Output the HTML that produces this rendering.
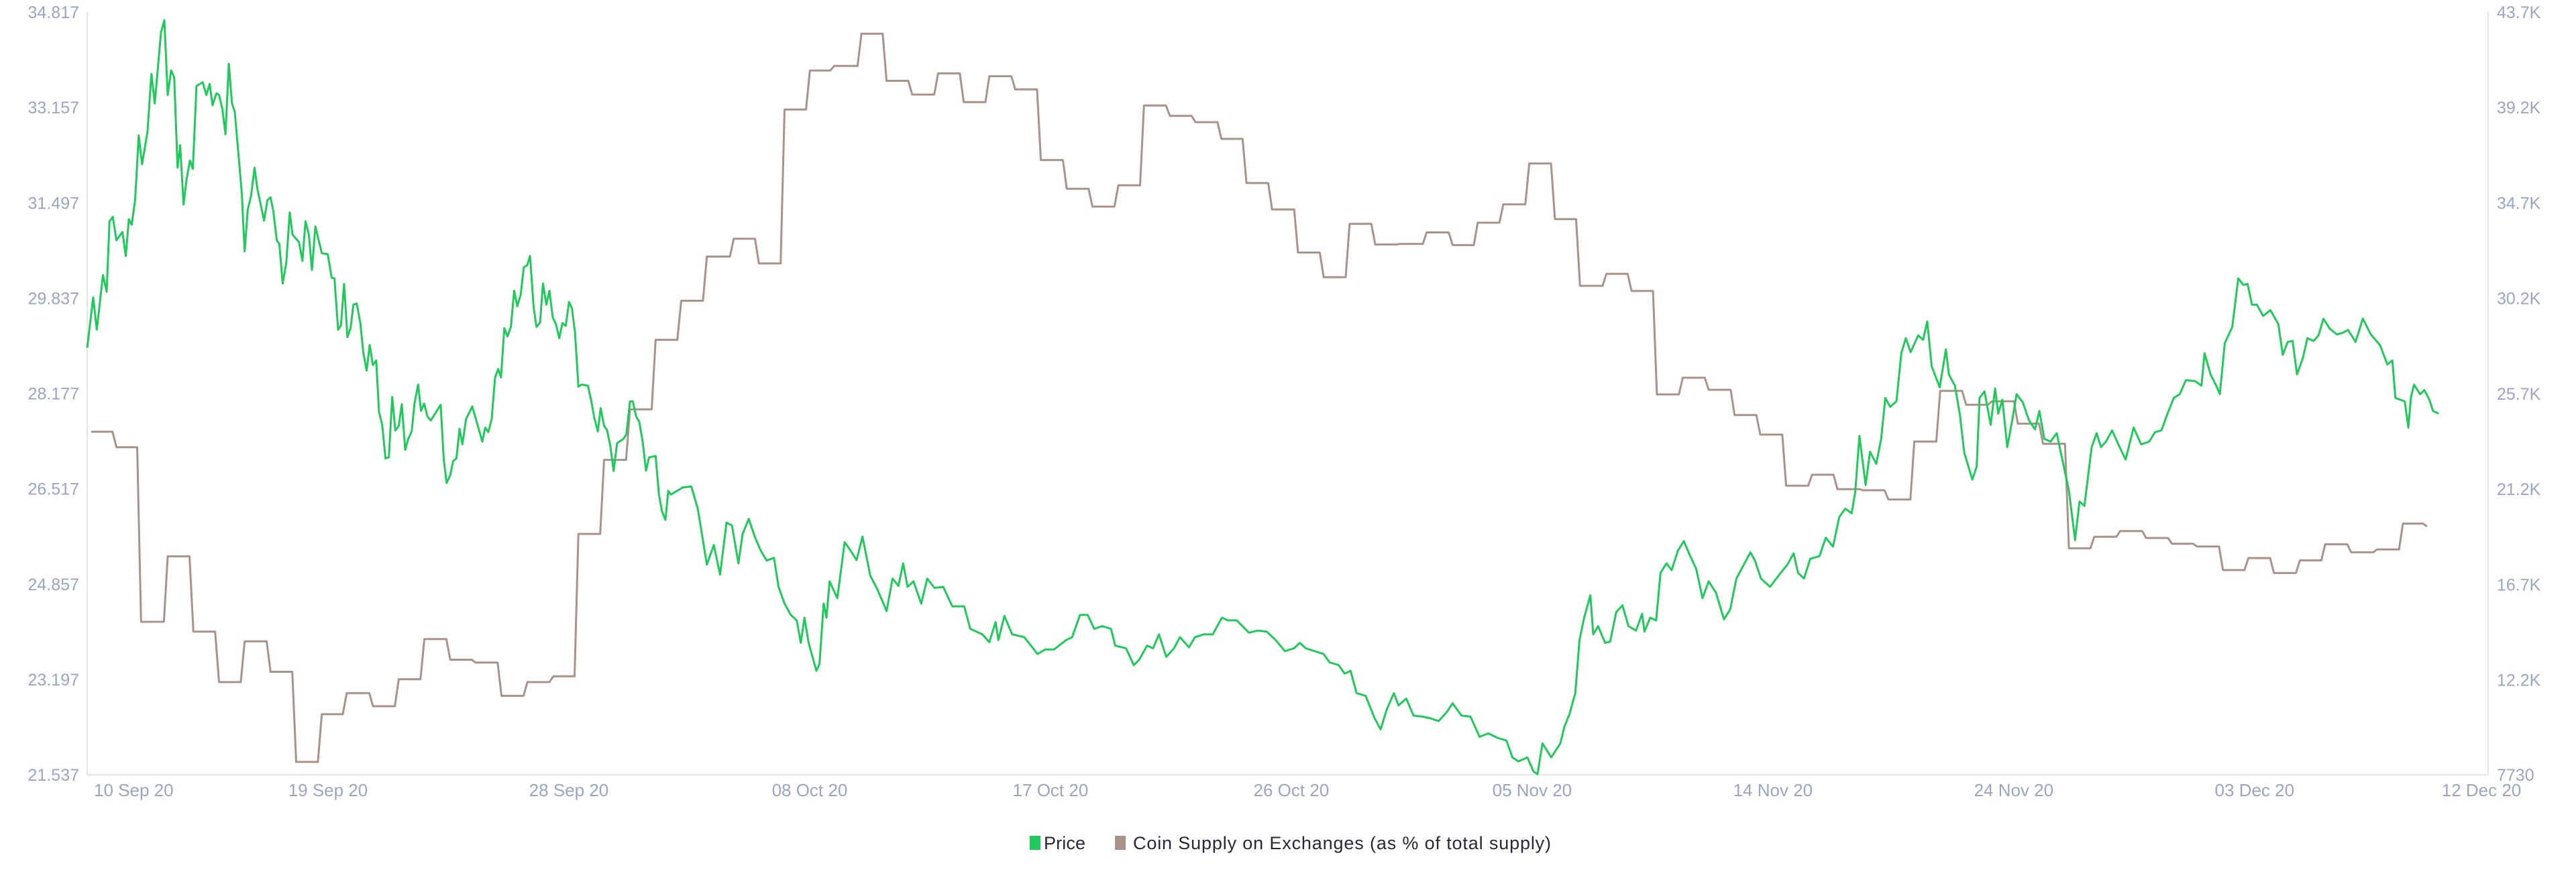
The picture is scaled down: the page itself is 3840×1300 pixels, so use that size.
<!DOCTYPE html>
<html><head><meta charset="utf-8"><style>
html,body{margin:0;padding:0;background:#fff;}
svg{display:block;font-family:"Liberation Sans",sans-serif;}
</style></head><body>
<svg id="chart" width="3840" height="1300" viewBox="0 0 3840 1300" xmlns="http://www.w3.org/2000/svg">
<rect x="0" y="0" width="3840" height="1300" fill="#fff"/>
<line x1="130" y1="18" x2="130" y2="1155" stroke="#e3e5ee" stroke-width="2"/>
<line x1="3709" y1="18" x2="3709" y2="1155" stroke="#e3e5ee" stroke-width="2"/>
<line x1="130" y1="1155" x2="3709" y2="1155" stroke="#e3e5ee" stroke-width="2"/>
<g id="lticks"></g>
<g id="rticks"></g>
<g id="xticks"></g>
<path id="supplyLine" fill="none" stroke="#a8928a" stroke-width="3" stroke-linejoin="round"/>
<path id="priceLine" fill="none" stroke="#1fc95a" stroke-width="3" stroke-linejoin="round"/>
<g>
<rect x="1535" y="1246" width="16" height="21" fill="#1fc95a"/>
<text x="1556" y="1266" font-size="27" fill="#262838" textLength="62">Price</text>
<rect x="1662" y="1246" width="16" height="21" fill="#a8928a"/>
<text x="1689" y="1266" font-size="27" fill="#262838" textLength="623">Coin Supply on Exchanges (as % of total supply)</text>
</g>
</svg>
<script>
const leftTicks = [21.537, 23.197, 24.857, 26.517, 28.177, 29.837, 31.497, 33.157, 34.817];
const leftTickLabels = ["21.537","23.197","24.857","26.517","28.177","29.837","31.497","33.157","34.817"];
const rightTicks = [7.73, 12.2, 16.7, 21.2, 25.7, 30.2, 34.7, 39.2, 43.7];
const rightTickLabels = ["7730","12.2K","16.7K","21.2K","25.7K","30.2K","34.7K","39.2K","43.7K"];
const xTickDays = [0, 9.3, 18.6, 27.9, 37.2, 46.5, 55.8, 65.1, 74.4, 83.7, 93];
const xTickLabels = ["10 Sep 20","19 Sep 20","28 Sep 20","08 Oct 20","17 Oct 20","26 Oct 20","05 Nov 20","14 Nov 20","24 Nov 20","03 Dec 20","12 Dec 20"];

const priceDay = [0,0.23,0.37,0.61,0.75,0.86,0.99,1.13,1.36,1.49,1.61,1.72,1.85,1.99,2.12,2.33,2.48,2.61,2.85,2.98,3.11,3.24,3.36,3.49,3.59,3.72,3.84,3.97,4.08,4.22,4.46,4.6,4.73,4.84,4.99,5.09,5.22,5.34,5.47,5.59,5.7,5.97,6.08,6.2,6.33,6.46,6.58,6.83,6.96,7.08,7.19,7.32,7.42,7.55,7.69,7.82,7.93,8.18,8.31,8.43,8.56,8.68,8.81,8.94,9.06,9.29,9.44,9.55,9.69,9.8,9.92,10.05,10.17,10.28,10.41,10.55,10.66,10.79,10.91,11.03,11.16,11.27,11.39,11.52,11.65,11.78,11.9,12.03,12.15,12.28,12.4,12.53,12.64,12.78,12.89,13.01,13.14,13.27,13.65,13.77,13.88,14.02,14.13,14.26,14.38,14.49,14.63,14.87,15.26,15.37,15.49,15.62,15.75,15.87,15.98,16.11,16.23,16.36,16.49,16.61,16.74,16.86,16.99,17.1,17.24,17.35,17.49,17.6,17.73,17.85,17.98,18.1,18.23,18.35,18.48,18.61,18.72,18.84,18.97,19.09,19.34,19.47,19.58,19.72,19.83,19.96,20.08,20.21,20.33,20.46,20.71,20.82,20.96,21.07,21.2,21.32,21.45,21.58,21.7,21.95,22.08,22.2,22.33,22.44,22.54,23,23.33,23.58,23.93,24.2,24.44,24.69,24.9,25.15,25.31,25.55,25.78,26.01,26.24,26.52,26.7,26.93,27.17,27.4,27.56,27.7,27.86,28.16,28.28,28.44,28.55,28.67,28.97,29.25,29.48,29.71,29.94,30.24,30.52,30.87,31.1,31.33,31.51,31.68,31.91,32.21,32.44,32.72,33.06,33.41,33.87,34.1,34.57,34.84,35.08,35.19,35.42,35.72,36.19,36.53,36.7,37,37.34,37.8,38.04,38.34,38.64,38.89,39.19,39.54,39.7,40.12,40.42,40.63,40.93,41.16,41.39,41.67,41.97,42.2,42.55,42.78,43.13,43.47,43.82,44.05,44.4,44.86,45.21,45.55,45.9,46.25,46.6,46.83,47.06,47.4,47.75,47.98,48.33,48.56,48.79,49.02,49.37,49.72,49.95,50.18,50.46,50.64,50.94,51.22,51.57,51.87,52.19,52.49,52.73,53.07,53.42,53.77,54.11,54.46,54.81,55.04,55.27,55.62,55.85,56.01,56.2,56.54,56.89,57.05,57.24,57.47,57.63,57.81,58.05,58.16,58.35,58.62,58.81,59.05,59.29,59.52,59.81,60.05,60.14,60.36,60.59,60.76,60.99,61.19,61.43,61.66,61.86,62.14,62.38,62.62,62.9,63.21,63.45,63.69,63.92,64.23,64.4,64.64,64.99,65.35,65.66,65.9,66.07,66.3,66.54,66.9,67.14,67.42,67.66,67.9,68.14,68.28,68.44,68.68,68.85,69.09,69.28,69.44,69.63,69.87,70.06,70.23,70.42,70.71,70.9,71.06,71.23,71.54,71.78,71.9,72.13,72.32,72.49,72.8,72.97,73.08,73.27,73.51,73.68,73.8,73.96,74.15,74.35,74.51,74.75,74.99,75.22,75.39,75.58,75.82,76.06,76.29,76.53,76.77,76.94,77.13,77.41,77.6,77.77,77.96,78.2,78.44,78.72,79.03,79.32,79.63,79.86,80.1,80.34,80.58,80.81,81.05,81.41,81.65,81.77,82,82.24,82.36,82.55,82.84,83.07,83.27,83.43,83.6,83.79,84.03,84.31,84.62,84.79,84.98,85.17,85.34,85.57,85.74,85.98,86.17,86.36,86.6,86.88,87.12,87.31,87.6,87.88,88.19,88.55,88.83,89.02,89.14,89.5,89.64,89.74,89.86,90.09,90.26,90.45,90.59,90.81];
const priceK = [27.87,30.24,28.72,31.3,30.51,33.83,34.04,32.93,33.33,32.2,33.93,33.67,34.83,37.89,36.52,38.07,40.79,39.39,42.74,43.32,39.79,40.95,40.63,36.36,37.42,34.62,35.83,36.7,36.31,40.21,40.39,39.79,40.31,39.31,39.87,39.79,39.13,37.94,41.26,39.39,39,35.17,32.41,34.38,35.04,36.36,35.31,33.86,34.83,34.96,34.3,32.93,32.77,30.9,31.88,34.25,33.2,32.85,31.96,33.83,33.2,31.54,33.59,32.93,32.33,32.28,31.17,31.14,28.72,28.93,30.88,28.37,28.79,29.9,29.95,29.03,27.66,26.79,28,27.05,27.27,24.84,24.23,22.65,22.7,25.55,23.97,24.18,25.21,23.05,23.57,23.92,25.24,26.13,24.89,25.24,24.63,24.44,25.18,22.6,21.49,21.86,22.52,22.65,24.05,23.31,24.5,25.1,23.44,24.1,23.89,24.5,26.47,26.87,26.47,28.79,28.4,28.85,30.56,29.82,30.38,31.67,31.75,32.2,29.77,28.85,29.06,30.9,29.9,30.56,29.3,28.98,28.32,29.03,28.9,30.03,29.72,28.58,26.03,26.13,26.08,25.34,24.58,23.92,25.02,24.18,23.97,23.18,22.05,23.36,23.57,23.79,25.34,25.34,24.63,24.37,23.44,22.07,22.7,22.76,20.94,20.15,19.75,21.12,20.94,21.28,21.33,20.28,17.64,18.57,17.17,19.62,19.49,17.7,19.09,19.8,18.96,18.3,17.83,17.96,16.59,15.8,15.27,15.01,13.95,15.14,13.95,12.63,12.95,15.8,15.14,16.85,16.06,18.7,18.3,17.85,18.96,17.12,16.46,15.45,16.98,16.64,17.7,16.59,16.85,15.8,16.98,16.54,16.59,15.67,15.67,14.61,14.35,13.98,14.93,14.08,15.22,14.35,14.22,13.69,13.42,13.64,13.64,14.08,14.22,15.27,15.27,14.61,14.74,14.61,13.82,13.69,12.9,13.16,13.82,13.69,14.35,13.29,13.69,14.22,13.74,14.22,14.35,14.35,15.14,15.01,15.01,14.43,14.53,14.48,14.08,13.56,13.69,13.95,13.69,13.56,13.42,13.03,12.9,12.5,12.63,11.58,11.45,10.39,9.87,10.79,11.58,11,11.32,10.52,10.47,10.39,10.26,10.66,11.1,10.52,10.47,9.52,9.68,9.47,9.34,8.55,8.36,8.55,7.89,7.76,9.21,8.55,9.21,10,10.58,11.58,14.08,15.14,16.19,14.35,14.74,13.95,14,15.4,15.72,14.74,14.53,15.32,14.48,15.14,15.01,17.25,17.7,17.38,18.3,18.75,18.17,17.43,16.06,16.85,16.32,15.06,15.53,16.98,17.51,18.22,17.85,16.98,16.59,17.17,17.64,18.17,17.25,16.98,17.91,18.04,18.91,18.49,19.88,20.28,20.06,21.07,23.71,21.39,22.97,22.39,23.57,25.5,25.08,25.34,27.61,28.32,27.66,28.45,28.24,29.11,27,26,27.79,26.6,26.08,24.71,22.92,21.65,22.26,25.5,25.81,24.23,25.95,24.76,25.42,23.18,24.5,25.68,25.29,24.44,24.02,24.89,23.57,23.44,23.84,22.52,21.12,18.8,20.62,20.41,23.18,23.84,23.18,23.44,23.97,23.31,22.6,24.1,23.31,23.44,23.89,23.97,24.76,25.5,25.68,26.34,26.29,26.08,27.61,26.61,26.03,25.68,28.08,28.85,31.14,30.83,30.88,29.9,29.9,29.37,29.64,28.98,27.53,28.14,28.19,26.61,27.4,28.32,28.19,28.45,29.24,28.77,28.5,28.58,28.71,28.14,29.24,28.5,27.98,27.08,27.27,25.5,25.34,24.1,25.55,26.13,25.68,25.87,25.42,24.89,24.76];

const supplyDay = [0.15,1.13,2.08,3.11,4.1,5.09,6.08,7.08,8.07,9.06,10.02,11.04,12.03,13.02,14.02,15,16,17,18,18.97,19.96,20.96,21.95,22.94,23.93,24.97,25.94,26.93,27.91,28.85,29.9,30.87,31.86,32.86,33.85,34.84,35.84,36.83,37.83,38.82,39.82,40.81,41.81,42.8,43.8,44.77,45.76,46.76,47.75,48.75,49.74,50.71,51.73,52.73,53.7,54.69,55.69,56.68,57.65,58.67,59.64,60.62,61.62,62.62,63.62,64.61,65.61,66.61,67.59,68.59,69.56,70.56,71.56,72.56,73.56,74.56,75.53,76.53,77.51,78.51,79.51,80.51,81.48,82.48,83.46,84.45,85.45,86.43,87.43,88.43,89.43,90.36];
const supplyPct = [27.51,27.24,24.2,25.34,24.03,23.15,23.86,23.33,21.76,22.59,22.96,22.73,23.2,23.9,23.54,23.49,22.91,23.15,23.25,25.73,27.02,27.9,29.11,29.79,30.56,30.87,30.44,33.12,33.8,33.88,34.44,33.62,33.38,33.75,33.25,33.7,33.47,32.24,31.74,31.43,31.8,33.19,33.01,32.9,32.61,31.84,31.38,30.63,30.2,31.13,30.77,30.78,30.98,30.76,31.15,31.47,32.18,31.21,30.05,30.26,29.96,28.16,28.45,28.24,27.8,27.46,26.57,26.76,26.51,26.49,26.33,27.34,28.22,27.98,28.04,27.65,27.3,25.48,25.68,25.78,25.66,25.56,25.51,25.1,25.31,25.05,25.27,25.55,25.41,25.46,25.91,25.86];

const X0 = 130, X1 = 3709, Y0 = 1155, Y1 = 18;
const DAYS = 92.72;
function xScale(d){ return X0 + d / DAYS * (X1 - X0); }
function yLeft(v){ return Y0 - (v - 21.537) / (34.817 - 21.537) * (Y0 - Y1); }
function yRight(v){ return Y0 - (v - 7.73) / (43.7 - 7.73) * (Y0 - Y1); }
const NS = "http://www.w3.org/2000/svg";

const lg = document.getElementById('lticks');
leftTicks.forEach((v, i) => {
  const t = document.createElementNS(NS, 'text');
  t.setAttribute('x', 118);
  t.setAttribute('y', yLeft(v) + 9);
  t.setAttribute('text-anchor', 'end');
  t.setAttribute('font-size', '25');
  t.setAttribute('fill', '#9ba4c2');
  
  
  t.textContent = leftTickLabels[i];
  lg.appendChild(t);
});
const rg = document.getElementById('rticks');
rightTicks.forEach((v, i) => {
  const t = document.createElementNS(NS, 'text');
  t.setAttribute('x', 3722);
  t.setAttribute('y', yRight(v) + 9);
  t.setAttribute('font-size', '25');
  t.setAttribute('fill', '#9ba4c2');
  
  
  t.textContent = rightTickLabels[i];
  rg.appendChild(t);
});
const xg = document.getElementById('xticks');
xTickDays.forEach((d, i) => {
  const t = document.createElementNS(NS, 'text');
  let x = xScale(d);
  let anchor = 'middle';
  if (i === 0) { x = x + 10; anchor = 'start'; }
  if (i === xTickDays.length - 1) { x = 3699; }
  t.setAttribute('x', x);
  t.setAttribute('y', 1187);
  t.setAttribute('text-anchor', anchor);
  t.setAttribute('font-size', '26');
  t.setAttribute('fill', '#9ba4c2');
  
  
  t.textContent = xTickLabels[i];
  xg.appendChild(t);
});

let pd = '';
priceDay.forEach((d, i) => {
  pd += (i ? 'L' : 'M') + xScale(d).toFixed(1) + ' ' + yRight(priceK[i]).toFixed(1);
});
document.getElementById('priceLine').setAttribute('d', pd);

let sd = 'M' + xScale(supplyDay[0]).toFixed(1) + ' ' + yLeft(supplyPct[0]).toFixed(1);
for (let i = 1; i < supplyDay.length; i++) {
  sd += 'L' + xScale(supplyDay[i] - 0.15).toFixed(1) + ' ' + yLeft(supplyPct[i-1]).toFixed(1);
  sd += 'L' + xScale(supplyDay[i]).toFixed(1) + ' ' + yLeft(supplyPct[i]).toFixed(1);
}
document.getElementById('supplyLine').setAttribute('d', sd);
</script>
</body></html>
